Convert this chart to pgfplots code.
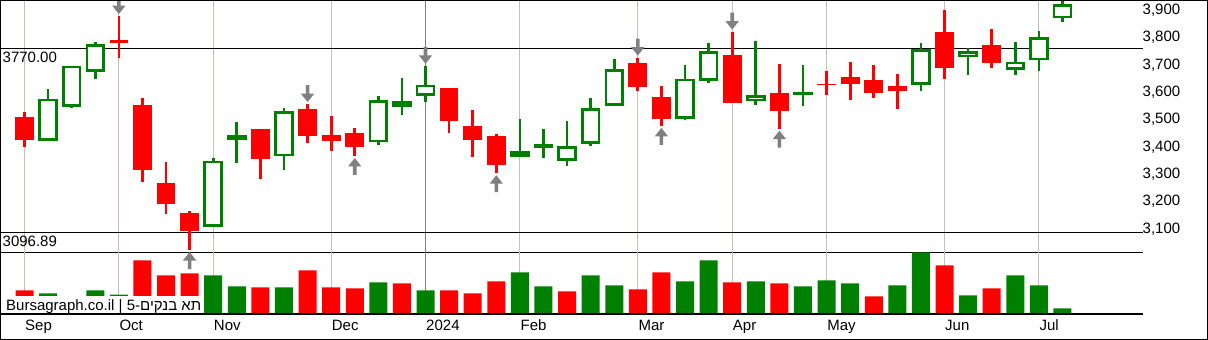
\documentclass[border=0pt]{standalone}
\usepackage{fontspec}
\setmainfont{Liberation Sans}
\newfontfamily\hebfont[Script=Hebrew]{Liberation Sans}
\TeXXeTstate=1
\usepackage{pgfplots}
\usepackage{pgfplotstable}
\pgfplotsset{compat=1.18}
\definecolor{cred}{RGB}{255,0,0}
\definecolor{cgreen}{RGB}{0,128,0}
\definecolor{gridc}{RGB}{200,192,184}
\definecolor{darkgrid}{RGB}{128,128,128}
\definecolor{arrowc}{RGB}{128,128,128}
\newcommand\fs{\fontsize{15}{18}\selectfont}

\pgfdeclareplotmark{darr}{%
  \pgfpathmoveto{\pgfqpoint{0pt}{2pt}}%
  \pgfpathlineto{\pgfqpoint{-6.7pt}{10.5pt}}%
  \pgfpathlineto{\pgfqpoint{-1.8pt}{10.5pt}}%
  \pgfpathlineto{\pgfqpoint{-1.8pt}{19pt}}%
  \pgfpathlineto{\pgfqpoint{1.8pt}{19pt}}%
  \pgfpathlineto{\pgfqpoint{1.8pt}{10.5pt}}%
  \pgfpathlineto{\pgfqpoint{6.7pt}{10.5pt}}%
  \pgfpathclose
  \pgfusepathqfill}
\pgfdeclareplotmark{uarr}{%
  \pgfpathmoveto{\pgfqpoint{0pt}{-2pt}}%
  \pgfpathlineto{\pgfqpoint{-6.7pt}{-10.5pt}}%
  \pgfpathlineto{\pgfqpoint{-1.8pt}{-10.5pt}}%
  \pgfpathlineto{\pgfqpoint{-1.8pt}{-19pt}}%
  \pgfpathlineto{\pgfqpoint{1.8pt}{-19pt}}%
  \pgfpathlineto{\pgfqpoint{1.8pt}{-10.5pt}}%
  \pgfpathlineto{\pgfqpoint{6.7pt}{-10.5pt}}%
  \pgfpathclose
  \pgfusepathqfill}

% weekly candles: index, open, high, low, close
\pgfplotstableread{
i O H L C
0 3519 3538 3410 3436
4 3800 3888 3735 3788
5 3563 3587 3280 3326
6 3277 3353 3163 3202
7 3168 3175 3032 3103
10 3475 3476 3291 3366
12 3548 3566 3423 3450
13 3453 3523 3394 3432
14 3460 3477 3376 3410
18 3624 3625 3459 3505
19 3486 3543 3372 3436
20 3449 3455 3313 3344
26 3716 3736 3615 3630
27 3592 3633 3486 3510
30 3746 3831 3570 3571
32 3606 3711 3476 3542
34 3640 3688 3599 3636
35 3664 3719 3581 3640
36 3654 3710 3587 3608
37 3632 3677 3548 3615
39 3830 3910 3658 3699
41 3782 3842 3697 3715
}\redc
\pgfplotstableread{
i O H L C
1 3431 3620 3431 3586
2 3555 3707 3550 3706
3 3684 3794 3658 3785
8 3116 3369 3116 3359
11 3375 3551 3324 3540
15 3426 3597 3415 3580
17 3597 3706 3574 3637
23 3359 3503 3339 3413
24 3420 3589 3413 3551
25 3559 3732 3558 3695
28 3512 3710 3508 3659
29 3650 3790 3642 3760
31 3576 3798 3563 3598
38 3637 3790 3615 3766
40 3738 3772 3671 3760
42 3691 3794 3671 3721
43 3726 3833 3687 3812
44 3880 3942 3865 3932
}\greenh
\pgfplotstableread{
i O H L C
9 3434 3502 3349 3452
16 3556 3663 3526 3577
21 3374 3510 3374 3395
22 3406 3474 3368 3420
33 3600 3710 3559 3611
}\greenf
\pgfplotstableread{
i v
0 24
5 54
6 39
7 41
10 27
12 44
13 27
14 26
16 31
18 24
19 21
20 33
23 23
26 25
27 42
30 32
32 31
36 18
39 49
41 26
}\volred
\pgfplotstableread{
i v
1 21
2 12
3 24
4 19.6
8 39
9 28
11 27
15 32
17 24
21 42
22 28
24 39
25 29
28 33
29 54
31 33
33 28
34 34
35 31
37 29
38 62
40 19
42 39
43 29
44 6
}\volgreen

\pgfplotsset{chartbase/.style={
  scale only axis, width=1143pt, xmin=-1.0386, xmax=47.414,
  anchor=south west, clip=false,
  axis line style={draw=none}, tick style={draw=none}, major tick length=0pt,
  xtick={0,4,8,13,21,26,30,34,39,43}, extra x ticks={17},
  xmajorgrids, grid style={draw=gridc, line width=1pt},
  extra x tick style={grid style={draw=darkgrid, line width=1pt}},
}}

\begin{document}
\begin{tikzpicture}[x=1pt,y=1pt]
\draw[black, line width=1pt] (0,87.7) -- (1143,87.7);

\begin{axis}[chartbase, at={(0pt,87.7pt)}, height=252.3pt,
  ymin=3023.7, ymax=3946.7,
  ytick={3100,3200,3300,3400,3500,3600,3700,3800,3900},
  yticklabel pos=right, scaled y ticks=false,
  yticklabel={\pgfmathprintnumber[1000 sep={,}, assume math mode=true]{\tick}},
  yticklabel style={anchor=west, inner sep=0pt, xshift=-0.5pt, yshift=2.5pt, font=\fs},
  xticklabel={\hbox{}}, extra x tick labels={\hbox{}}]
  \addplot[black, line width=1pt] coordinates {(-1.0386,3770) (47.414,3770)};
  \addplot[black, line width=1pt] coordinates {(-1.0386,3096.89) (47.414,3096.89)};
  % wicks
  \addplot[draw=none, error bars/.cd, y dir=both, y explicit, error mark=none,
    error bar style={draw=cred, line width=2.7pt}]
    table[x=i, y expr={(\thisrow{H}+\thisrow{L})/2}, y error expr={(\thisrow{H}-\thisrow{L})/2}] {\redc};
  \addplot[draw=none, error bars/.cd, y dir=both, y explicit, error mark=none,
    error bar style={draw=cgreen, line width=2.7pt}]
    table[x=i, y expr={(\thisrow{H}+\thisrow{L})/2}, y error expr={(\thisrow{H}-\thisrow{L})/2}] {\greenh};
  \addplot[draw=none, error bars/.cd, y dir=both, y explicit, error mark=none,
    error bar style={draw=cgreen, line width=2.7pt}]
    table[x=i, y expr={(\thisrow{H}+\thisrow{L})/2}, y error expr={(\thisrow{H}-\thisrow{L})/2}] {\greenf};
  % bodies
  \addplot[draw=none, error bars/.cd, y dir=both, y explicit, error mark=none,
    error bar style={draw=cred, line width=18.7pt}]
    table[x=i, y expr={(\thisrow{O}+\thisrow{C})/2}, y error expr={abs(\thisrow{O}-\thisrow{C})/2}] {\redc};
  \addplot[draw=none, error bars/.cd, y dir=both, y explicit, error mark=none,
    error bar style={draw=cgreen, line width=19.5pt}]
    table[x=i, y expr={(\thisrow{O}+\thisrow{C})/2}, y error expr={abs(\thisrow{O}-\thisrow{C})/2}] {\greenf};
  \addplot[draw=none, error bars/.cd, y dir=both, y explicit, error mark=none,
    error bar style={draw=cgreen, line width=19.5pt}]
    table[x=i, y expr={(\thisrow{O}+\thisrow{C})/2}, y error expr={abs(\thisrow{O}-\thisrow{C})/2}] {\greenh};
  \addplot[draw=none, error bars/.cd, y dir=both, y explicit, error mark=none,
    error bar style={draw=white, line width=14.1pt}]
    table[x=i, y expr={(\thisrow{O}+\thisrow{C})/2}, y error expr={max(0,abs(\thisrow{O}-\thisrow{C})/2-9.9)}] {\greenh};
  % arrows
  \addplot[only marks, mark=darr, color=arrowc] coordinates {(4,3888) (12,3566) (17,3706) (26,3736) (30,3831)};
  \addplot[only marks, mark=uarr, color=arrowc] coordinates {(7,3032) (14,3376) (20,3313) (27,3486) (32,3476)};
\end{axis}

\begin{axis}[chartbase, at={(0pt,25.7pt)}, height=62pt,
  ymin=0, ymax=62, ytick=\empty,
  xticklabels={Sep,Oct,Nov,Dec,Feb,Mar,Apr,May,Jun,Jul},
  extra x tick labels={2024},
  xticklabel style={anchor=base west, inner sep=0pt, yshift=-16.2pt, xshift=0.5pt, font=\fs}]
  \addplot[ybar, bar width=18pt, bar shift=0pt, fill=cred, draw=none] table[x=i, y=v] {\volred};
  \addplot[ybar, bar width=18pt, bar shift=0pt, fill=cgreen, draw=none] table[x=i, y=v] {\volgreen};
\end{axis}

\fill[white] (4,26.7) rectangle (203,44);
\node[anchor=base west, inner sep=0pt, font=\fs] at (6,29.3) {Bursagraph.co.il | 5-{\hebfont\beginR תא בנקים\endR}};
\node[anchor=base west, inner sep=0pt, font=\fs] at (2.5,277.3) {3770.00};
\node[anchor=base west, inner sep=0pt, font=\fs] at (2.5,93.3) {3096.89};
\draw[black, line width=2pt] (0,25.7) -- (1143,25.7);
\draw[black, line width=1pt] (0.5,0.5) rectangle (1207.5,339.5);
\pgfresetboundingbox
\path[use as bounding box] (0,0) rectangle (1208,340);
\end{tikzpicture}
\end{document}
